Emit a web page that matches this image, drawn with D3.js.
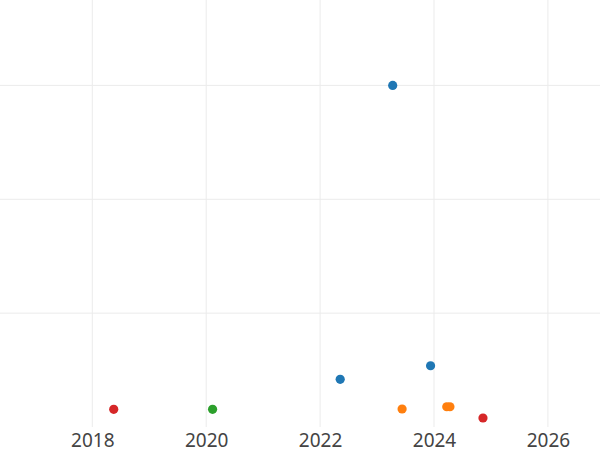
<!DOCTYPE html>
<html>
<head>
<meta charset="utf-8">
<script src="https://cdn.jsdelivr.net/npm/d3@7"></script>
<style>
  html, body { margin: 0; padding: 0; background: #fff; }
  svg { display: block; }
</style>
</head>
<body>
<svg id="chart" width="600" height="450"></svg>
<script>
// ---- data ----
const dates   = [2018.376, 2020.112, 2022.353, 2023.275, 2023.44, 2023.94, 2024.224, 2024.28, 2024.86];
const values  = [0.155, 0.155, 0.419, 3.0, 0.158, 0.538, 0.178, 0.178, 0.079];
const groups  = ["D", "C", "A", "A", "B", "A", "B", "B", "D"];
const groupNames  = ["A", "B", "C", "D"];
const groupColors = ["#1f77b4", "#ff7f0e", "#2ca02c", "#d62728"];
const xTicks = [2018, 2020, 2022, 2024, 2026];
const yTicks = [1, 2, 3];

// ---- layout ----
const W = 600, H = 450;
const plotBottom = 427;
const svg = d3.select("#chart");

const x = d3.scaleLinear().domain([2016.379, 2026.915]).range([0, W]);
const y = d3.scaleLinear().domain([0, 3.75]).range([plotBottom, 0]);
const color = d3.scaleOrdinal().domain(groupNames).range(groupColors);

// grid
const grid = svg.append("g");
grid.selectAll("line.v").data(xTicks).join("line")
  .attr("class", "v")
  .attr("x1", d => x(d)).attr("x2", d => x(d))
  .attr("y1", 0).attr("y2", plotBottom)
  .attr("stroke", "#ebebeb").attr("stroke-width", 1);
grid.selectAll("line.h").data(yTicks).join("line")
  .attr("class", "h")
  .attr("x1", 0).attr("x2", W)
  .attr("y1", d => y(d)).attr("y2", d => y(d))
  .attr("stroke", "#ebebeb").attr("stroke-width", 1);

// x axis labels
const xAxis = d3.axisBottom(x).tickValues(xTicks).tickFormat(d3.format("d")).tickSize(0).tickPadding(6.5);
const gx = svg.append("g").attr("transform", `translate(0,${plotBottom})`).call(xAxis);
gx.select(".domain").remove();
gx.selectAll("text")
  .attr("font-family", "'Noto Sans', sans-serif")
  .attr("font-size", 19)
  .attr("fill", "#444");

// points
const pts = dates.map((d, i) => ({ date: d, value: values[i], group: groups[i] }));
svg.append("g").selectAll("circle").data(pts).join("circle")
  .attr("cx", d => x(d.date))
  .attr("cy", d => y(d.value))
  .attr("r", 4.6)
  .attr("fill", d => color(d.group));
</script>
</body>
</html>
